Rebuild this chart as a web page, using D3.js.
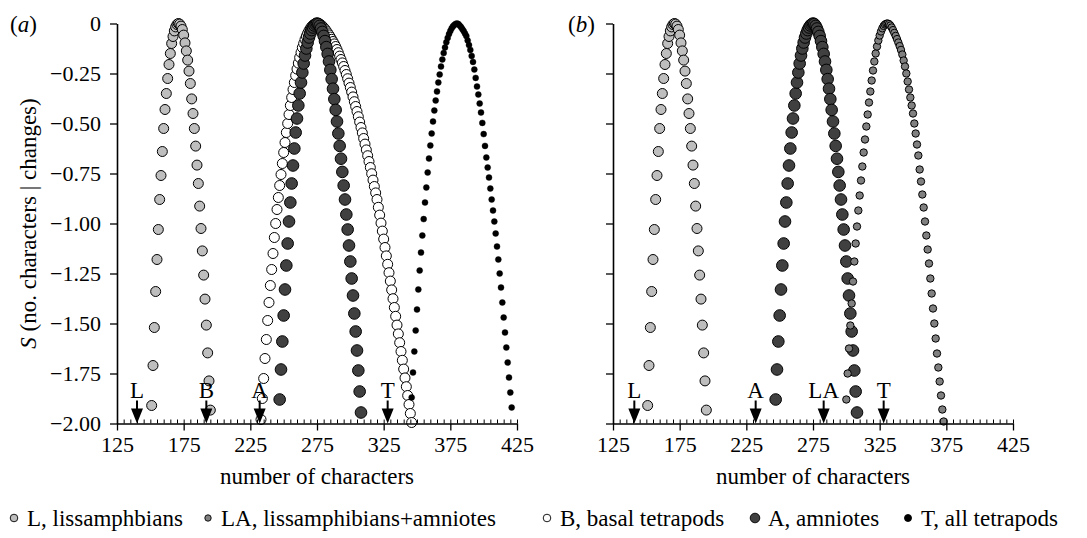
<!DOCTYPE html>
<html>
<head>
<meta charset="utf-8">
<script src="https://cdn.jsdelivr.net/npm/d3@7"></script>
<style>
  body { margin: 0; background: #fff; }
  svg text { font-family: "Liberation Serif", "DejaVu Serif", serif !important; fill: #000; }
</style>
</head>
<body>
<div id="chart"></div>
<script>
// data: [number of characters, S]
var seriesL = [[151,-1.91],[152,-1.71],[153,-1.52],[154,-1.34],[155,-1.18],[156,-1.03],[157,-0.88],[158,-0.76],[159,-0.64],[160,-0.525],
  [161,-0.43],[162,-0.35],[163,-0.275],[164,-0.205],[165,-0.15],[166,-0.10],[167,-0.065],[168,-0.037],[169,-0.017],[170,-0.005],
  [171,0],[172,-0.003],[173,-0.013],[174,-0.03],[175,-0.058],[176,-0.097],[177,-0.137],[178,-0.183],[179,-0.238],[180,-0.30],
  [181,-0.377],[182,-0.45],[183,-0.525],[184,-0.613],[185,-0.708],[186,-0.80],[187,-0.913],[188,-1.025],[189,-1.137],[190,-1.258],
  [191,-1.378],[192,-1.508],[193,-1.647],[194,-1.787],[195,-1.933]];

var seriesB = [[233,-1.98],[234,-1.875],[235,-1.775],[236,-1.675],[237,-1.58],[238,-1.485],[239,-1.395],[240,-1.31],[241,-1.23],[242,-1.15],
  [243,-1.07],[244,-1.0],[245,-0.93],[246,-0.87],[247,-0.81],[248,-0.755],[249,-0.70],[250,-0.645],[251,-0.595],[252,-0.545],
  [253,-0.50],[254,-0.455],[255,-0.41],[256,-0.37],[257,-0.33],[258,-0.295],[259,-0.26],[260,-0.228],[261,-0.198],[262,-0.17],
  [263,-0.145],[264,-0.12],[265,-0.10],[266,-0.08],[267,-0.063],[268,-0.048],[269,-0.035],[270,-0.024],[271,-0.015],[272,-0.008],
  [273,-0.004],[274,-0.001],[275,0],[276,0],[277,-0.003],[278,-0.007],[279,-0.013],[280,-0.02],[281,-0.028],[282,-0.037],
  [283,-0.047],[284,-0.057],[285,-0.068],[286,-0.079],[287,-0.09],[288,-0.102],[289,-0.115],[290,-0.13],[291,-0.146],[292,-0.163],
  [293,-0.18],[294,-0.197],[295,-0.215],[296,-0.235],[297,-0.255],[298,-0.276],[299,-0.298],[300,-0.32],[301,-0.343],[302,-0.367],
  [303,-0.391],[304,-0.415],[305,-0.44],[306,-0.466],[307,-0.493],[308,-0.52],[309,-0.547],[310,-0.575],[311,-0.603],[312,-0.632],
  [313,-0.661],[314,-0.69],[315,-0.72],[316,-0.751],[317,-0.783],[318,-0.815],[319,-0.847],[320,-0.88],[321,-0.919],[322,-0.958],
  [323,-0.998],[324,-1.038],[325,-1.078],[326,-1.12],[327,-1.162],[328,-1.204],[329,-1.246],[330,-1.288],[331,-1.332],[332,-1.376],
  [333,-1.42],[334,-1.464],[335,-1.508],[336,-1.552],[337,-1.596],[338,-1.64],[339,-1.684],[340,-1.728],[341,-1.772],[342,-1.816],
  [343,-1.86],[344,-1.905],[345,-1.95],[346,-1.995]];

var seriesA = [[247,-1.88],[248,-1.73],[249,-1.59],[250,-1.46],[251,-1.33],[252,-1.21],[253,-1.10],[254,-0.99],[255,-0.895],[256,-0.80],
  [257,-0.71],[258,-0.625],[259,-0.545],[260,-0.475],[261,-0.41],[262,-0.35],[263,-0.295],[264,-0.245],[265,-0.20],[266,-0.16],
  [267,-0.125],[268,-0.095],[269,-0.07],[270,-0.05],[271,-0.033],[272,-0.02],[273,-0.01],[274,-0.004],[275,0],[276,-0.003],
  [277,-0.012],[278,-0.025],[279,-0.042],[280,-0.062],[281,-0.088],[282,-0.118],[283,-0.152],[284,-0.19],[285,-0.232],[286,-0.278],
  [287,-0.326],[288,-0.378],[289,-0.432],[290,-0.49],[291,-0.55],[292,-0.612],[293,-0.676],[294,-0.742],[295,-0.81],[296,-0.88],
  [297,-0.955],[298,-1.03],[299,-1.11],[300,-1.19],[301,-1.275],[302,-1.36],[303,-1.45],[304,-1.54],[305,-1.635],[306,-1.735],
  [307,-1.84],[308,-1.945]];

var seriesT = [[346,-1.87],[347,-1.745],[348,-1.64],[349,-1.535],[350,-1.43],[351,-1.33],[352,-1.235],[353,-1.145],[354,-1.06],[355,-0.978],
  [356,-0.895],[357,-0.82],[358,-0.745],[359,-0.675],[360,-0.61],[361,-0.55],[362,-0.49],[363,-0.435],[364,-0.385],[365,-0.34],
  [366,-0.295],[367,-0.255],[368,-0.215],[369,-0.18],[370,-0.148],[371,-0.12],[372,-0.094],[373,-0.072],[374,-0.053],[375,-0.037],
  [376,-0.024],[377,-0.014],[378,-0.007],[379,-0.002],[380,0],[381,-0.003],[382,-0.01],[383,-0.018],[384,-0.028],[385,-0.038],
  [386,-0.05],[387,-0.063],[388,-0.085],[389,-0.108],[390,-0.132],[391,-0.162],[392,-0.192],[393,-0.23],[394,-0.272],[395,-0.315],
  [396,-0.355],[397,-0.4],[398,-0.445],[399,-0.497],[400,-0.553],[401,-0.612],[402,-0.67],[403,-0.72],[404,-0.77],[405,-0.825],
  [406,-0.88],[407,-0.935],[408,-0.99],[409,-1.05],[410,-1.115],[411,-1.18],[412,-1.25],[413,-1.32],[414,-1.395],[415,-1.47],
  [416,-1.545],[417,-1.62],[418,-1.695],[419,-1.77],[420,-1.845],[421,-1.92]];

var seriesLA = [[300,-1.88],[301,-1.75],[302,-1.625],[303,-1.51],[304,-1.40],[305,-1.29],[306,-1.19],[307,-1.10],[308,-1.015],[309,-0.935],
  [310,-0.86],[311,-0.785],[312,-0.715],[313,-0.645],[314,-0.58],[315,-0.515],[316,-0.455],[317,-0.395],[318,-0.34],[319,-0.285],
  [320,-0.235],[321,-0.19],[322,-0.15],[323,-0.115],[324,-0.085],[325,-0.06],[326,-0.04],[327,-0.024],[328,-0.012],[329,-0.005],
  [330,-0.001],[331,0],[332,-0.003],[333,-0.01],[334,-0.02],[335,-0.033],[336,-0.047],[337,-0.062],[338,-0.078],[339,-0.095],
  [340,-0.113],[341,-0.132],[342,-0.155],[343,-0.185],[344,-0.215],[345,-0.25],[346,-0.29],[347,-0.33],[348,-0.37],[349,-0.41],
  [350,-0.45],[351,-0.5],[352,-0.55],[353,-0.605],[354,-0.66],[355,-0.73],[356,-0.79],[357,-0.855],[358,-0.92],[359,-0.99],
  [360,-1.06],[361,-1.13],[362,-1.2],[363,-1.275],[364,-1.35],[365,-1.425],[366,-1.5],[367,-1.575],[368,-1.65],[369,-1.72],
  [370,-1.79],[371,-1.86],[372,-1.93],[373,-1.99]];

var xTicks = [125, 175, 225, 275, 325, 375, 425];
var yTicks = [0, -0.25, -0.5, -0.75, -1, -1.25, -1.5, -1.75, -2];

// arrows under each panel: observed number of characters
var arrowsA = [{label: "L", x: 140}, {label: "B", x: 192}, {label: "A", x: 232}, {label: "T", x: 328}];
var arrowsB = [{label: "L", x: 141}, {label: "A", x: 232}, {label: "LA", x: 283}, {label: "T", x: 328}];

var legendKeys = ["L", "LA", "B", "A", "T"];
var legendNames = ["L, lissamphbians", "LA, lissamphibians+amniotes", "B, basal tetrapods", "A, amniotes", "T, all tetrapods"];

// marker styles
var styles = {
  L:  {r: 5, fill: "#bebebe", legendR: 3.8},
  LA: {r: 3.7, fill: "#808080", legendR: 3.2},
  B:  {r: 5, fill: "#ffffff", legendR: 3.8},
  A:  {r: 5.8, fill: "#404040", legendR: 4.8},
  T:  {r: 3, fill: "#000000", legendR: 3.5}
};

var W = 1087, H = 538;
var plotW = 400, plotH = 400;
var serif = "'Liberation Serif', 'DejaVu Serif', serif";

var svg = d3.select("#chart")
  .append("svg")
    .attr("width", W)
    .attr("height", H)
    .attr("font-family", serif);

var x = d3.scaleLinear().domain([125, 425]).range([0, plotW]);
var y = d3.scaleLinear().domain([-2, 0]).range([plotH, 0]);

function yFormat(d) { return d === 0 ? "0" : "\u2212" + d3.format(".2f")(-d); }

function drawPanel(left, top, tag, tagX, layers, arrows, showYLabels) {
  var g = svg.append("g").attr("transform", "translate(" + left + "," + top + ")");

  // points
  layers.forEach(function(l) {
    var st = styles[l.key];
    g.append("g").selectAll("circle")
      .data(l.data)
      .enter().append("circle")
        .attr("cx", function(d) { return x(d[0]); })
        .attr("cy", function(d) { return y(d[1]); })
        .attr("r", st.r)
        .attr("fill", st.fill)
        .attr("stroke", "#000")
        .attr("stroke-width", l.key === "T" ? 0.4 : 1);
  });

  // x axis: major ticks below, minor ticks above
  var xa = g.append("g")
    .attr("transform", "translate(0," + plotH + ")")
    .call(d3.axisBottom(x).tickValues(xTicks).tickSizeInner(7).tickSizeOuter(0).tickPadding(6));
  xa.attr("font-family", serif);
  xa.select(".domain").attr("stroke-width", 1.6);
  xa.selectAll(".tick line").attr("stroke-width", 1.3);
  xa.selectAll("text").attr("font-size", 22);

  var xm = g.append("g")
    .attr("transform", "translate(0," + plotH + ")")
    .call(d3.axisTop(x).tickValues(d3.range(125, 426, 5)).tickSizeInner(4).tickSizeOuter(0).tickFormat(""));
  xm.select(".domain").remove();
  xm.selectAll(".tick line").attr("stroke-width", 1);

  // y axis
  var ya = g.append("g")
    .call(d3.axisLeft(y).tickValues(yTicks).tickSizeInner(7).tickSizeOuter(0).tickPadding(9)
      .tickFormat(showYLabels ? yFormat : ""));
  ya.attr("font-family", serif);
  ya.select(".domain").attr("stroke-width", 1.6);
  ya.selectAll(".tick line").attr("stroke-width", 1.3);
  ya.selectAll("text").attr("font-size", 22);

  // x label
  g.append("text")
    .attr("x", plotW / 2)
    .attr("y", plotH + 60)
    .attr("text-anchor", "middle")
    .attr("font-size", 23)
    .text("number of characters");

  // panel tag
  var t = g.append("text")
    .attr("x", tagX - left)
    .attr("y", 8)
    .attr("font-size", 23);
  t.append("tspan").text("(");
  t.append("tspan").attr("font-style", "italic").text(tag);
  t.append("tspan").text(")");

  // arrows
  var ag = g.append("g").selectAll("g")
    .data(arrows)
    .enter().append("g")
      .attr("transform", function(d) { return "translate(" + x(d.x) + "," + plotH + ")"; });
  ag.append("line")
    .attr("x1", 0).attr("x2", 0)
    .attr("y1", -23).attr("y2", -12)
    .attr("stroke", "#000")
    .attr("stroke-width", 2);
  ag.append("path")
    .attr("d", "M-6,-15L6,-15L0,0Z")
    .attr("fill", "#000");
  ag.append("text")
    .attr("x", 0)
    .attr("y", -26)
    .attr("text-anchor", "middle")
    .attr("font-size", 23)
    .text(function(d) { return d.label; });

  return g;
}

drawPanel(117, 23.5, "a", 10, [
  {key: "L", data: seriesL},
  {key: "B", data: seriesB},
  {key: "A", data: seriesA},
  {key: "T", data: seriesT}
], arrowsA, true);

drawPanel(613, 23.5, "b", 568, [
  {key: "L", data: seriesL},
  {key: "A", data: seriesA},
  {key: "LA", data: seriesLA}
], arrowsB, false);

// y axis title
var yl = svg.append("text")
  .attr("transform", "translate(36,223.5) rotate(-90)")
  .attr("text-anchor", "middle")
  .attr("font-size", 23);
yl.append("tspan").attr("font-style", "italic").text("S");
yl.append("tspan").text(" (no. characters | changes)");

// legend along the bottom
var legendX = [14, 208, 547, 755, 908];
var lg = svg.append("g").selectAll("g")
  .data(legendKeys)
  .enter().append("g")
    .attr("transform", function(d, i) { return "translate(" + legendX[i] + ",518)"; });
lg.append("circle")
  .attr("r", function(d) { return styles[d].legendR; })
  .attr("fill", function(d) { return styles[d].fill; })
  .attr("stroke", "#000")
  .attr("stroke-width", 0.9);
lg.append("text")
  .attr("x", 13)
  .attr("y", 8)
  .attr("font-size", 23)
  .text(function(d, i) { return legendNames[i]; });
</script>
</body>
</html>
